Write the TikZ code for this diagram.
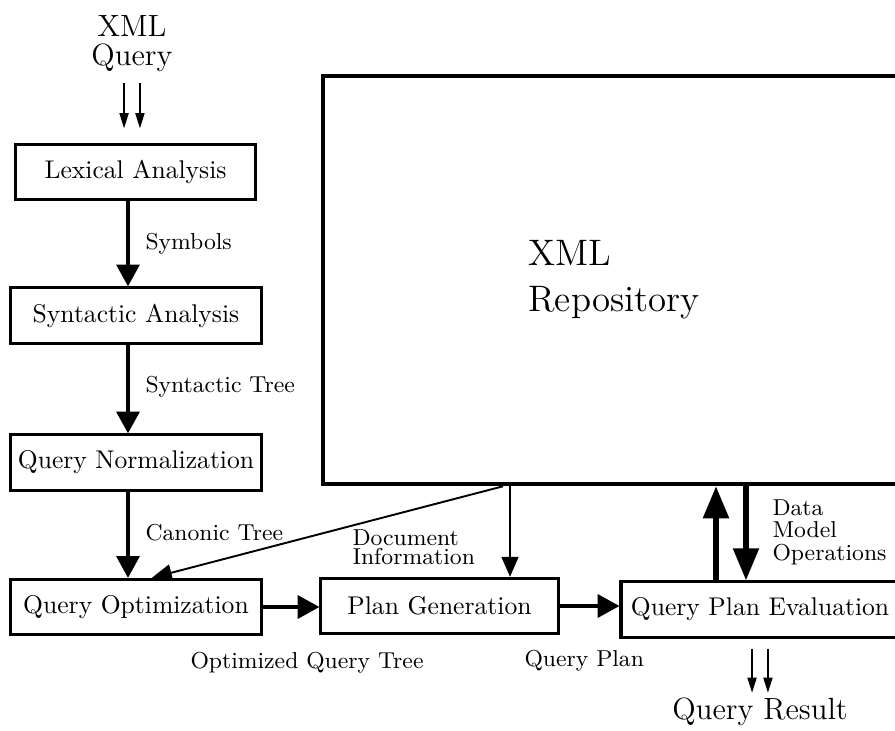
\documentclass[tikz,border=0pt]{standalone}
\usepackage{tikz}
\usetikzlibrary{arrows.meta}
\tikzstyle{stage}=[draw,line width=1.2pt,minimum height=21.6pt,inner sep=0pt]
\tikzstyle{wide}=[minimum width=98.4pt]
\tikzstyle{flow}=[line width=1.3pt,-{Triangle[length=8.5pt,width=9pt]}]
\tikzstyle{info}=[line width=0.75pt,-{Triangle[length=7.8pt,width=6.6pt]}]
\tikzstyle{access}=[line width=2pt,-{Triangle[length=12.5pt,width=9.8pt]}]
\tikzstyle{io}=[line width=0.5pt,-{Triangle[length=5.9pt,width=3.6pt]}]
\tikzstyle{tag}=[inner sep=0pt,font=\small,align=left,anchor=north west]

\begin{document}
\begin{tikzpicture}[x=0.3906pt,y=-0.3906pt]
\useasboundingbox (0,0) rectangle (895,731);
\clip (0,0) rectangle (895,731);

% processing stages
\node [inner sep=0pt,anchor=north,align=center,font={\large\baselineskip=11.3pt}] (query) at (132,15) {XML\\Query};
\node [stage,minimum width=94.1pt] (lex) at (135.5,172) {Lexical Analysis};
\node [stage,wide] (syn) at (136,315.5) {Syntactic Analysis};
\node [stage,wide] (norm) at (136,462.5) {Query Normalization};
\node [stage,wide] (opt) at (136,607) {Query Optimization};
\node [stage,minimum width=92.6pt] (gen) at (439.5,606) {Plan Generation};
\node [stage,minimum width=108.6pt] (qpe) at (760,609.5) {Query Plan Evaluation};
\node [inner sep=0pt,anchor=north,font=\large] (res) at (760,697) {Query Result};

% the store
\node [draw,line width=1.75pt,minimum width=227.3pt,minimum height=159.4pt,align=left,font=\Large] (repo) at (614,280) {XML\\Repository};

\coordinate (spine) at (128,0);
\coordinate (docA) at (503,0);
\coordinate (docB) at (510,0);
\coordinate (up) at (716,0);
\coordinate (down) at (746,0);

\draw [io] ([xshift=-3.1pt,yshift=-4.3pt]query.south) -- ++(0,45);
\draw [io] ([xshift=3.1pt,yshift=-4.3pt]query.south) -- ++(0,45);
\draw [flow] (lex.south -| spine) -- (syn.north -| spine);
\draw [flow] (syn.south -| spine) -- (norm.north -| spine);
\draw [flow] (norm.south -| spine) -- (opt.north -| spine);
\draw [flow] (opt.east) -- (opt.east -| gen.west);
\draw [flow] (gen.east) -- (gen.east -| qpe.west);
\draw [info] (repo.south -| docA) -- ([xshift=6.2pt]opt.north);
\draw [info] (repo.south -| docB) -- (gen.north -| docB);
\draw [access] (qpe.north -| up) -- (repo.south -| up);
\draw [access] (repo.south -| down) -- (qpe.north -| down);
\draw [io] ([xshift=-3.1pt,yshift=-3.9pt]qpe.south) -- ++(0,44);
\draw [io] ([xshift=3.1pt,yshift=-3.9pt]qpe.south) -- ++(0,44);

% labels
\node [tag] (sym) at (145,233) {Symbols};
\node [tag] (st) at (145,376) {Syntactic Tree};
\node [tag] (ct) at (145,524) {Canonic Tree};
\node [tag,font={\small\baselineskip=7.6pt}] (di) at (352,529) {Document\\Information};
\node [tag] (oqt) at (190,652) {Optimized Query Tree};
\node [tag] (qp) at (524,650) {Query Plan};
\node [tag,font={\small\baselineskip=8.8pt}] (dmo) at (772,499) {Data\\Model\\Operations};
\end{tikzpicture}
\end{document}
